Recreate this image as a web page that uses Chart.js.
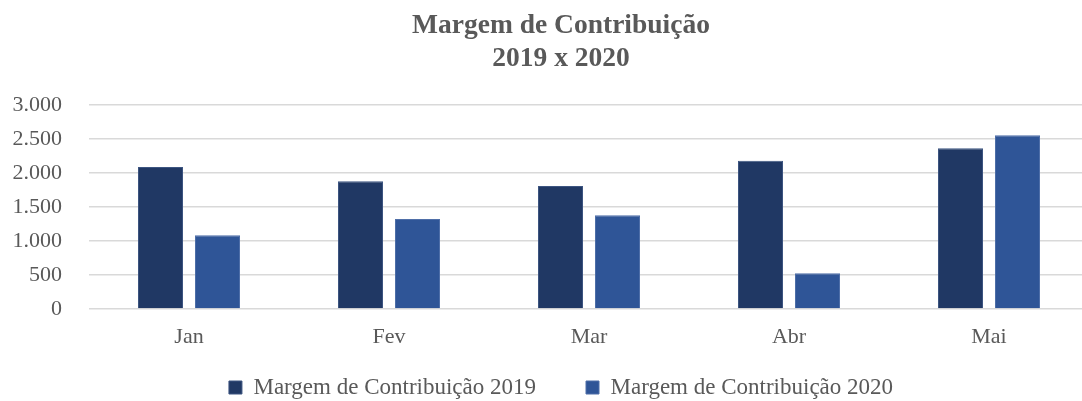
<!DOCTYPE html>
<html>
<head>
<meta charset="utf-8">
<script src="https://cdn.jsdelivr.net/npm/chart.js@4/dist/chart.umd.min.js"></script>
<style>
  html, body { margin: 0; padding: 0; background: #fff; overflow: hidden; }
  #wrap { width: 1122px; height: 401px; }
</style>
</head>
<body>
<div id="wrap"><canvas id="margemChart"></canvas></div>
<script>
// ===== DATA =====
const months = ['Jan', 'Fev', 'Mar', 'Abr', 'Mai'];
const margem2019 = [2090, 1880, 1810, 2180, 2365];
const margem2020 = [1085, 1325, 1380, 525, 2555];
const yMax = 3000;
const yStep = 500;

// thousands separator like "3.000"
function fmtBR(v) {
  return String(v).replace(/\B(?=(\d{3})+(?!\d))/g, '.');
}

const serif = "'Liberation Serif', 'DejaVu Serif', serif";
const grey = '#595959';

// ===== LEGEND: wide gap between items but a short box =====
const LEGEND_H = 51;
const LEGEND_ITEM_TOP = 26;
const legendFix = {
  id: 'legendFix',
  beforeInit(chart) {
    const legend = chart.legend;
    const fit = legend.fit;
    legend.fit = function () {
      fit.call(this);
      this.height = LEGEND_H;
    };
    const draw = legend.draw;
    legend.draw = function () {
      const t = this.top;
      this.top = t + LEGEND_ITEM_TOP - this.options.labels.padding;
      draw.call(this);
      this.top = t;
    };
  }
};

const ctx = document.getElementById('margemChart');
new Chart(ctx, {
  type: 'bar',
  data: {
    labels: months,
    datasets: [
      {
        label: 'Margem de Contribuição 2019',
        data: margem2019,
        backgroundColor: '#203864',
        borderColor: '#3d5581',
        borderWidth: 1,
        categoryPercentage: 0.57,
        barPercentage: 0.79
      },
      {
        label: 'Margem de Contribuição 2020',
        data: margem2020,
        backgroundColor: '#2f5597',
        borderColor: '#4f6fa8',
        borderWidth: 1,
        categoryPercentage: 0.57,
        barPercentage: 0.79
      }
    ]
  },
  options: {
    responsive: true,
    maintainAspectRatio: false,
    animation: false,
    layout: { padding: 0 },
    plugins: {
      title: {
        display: true,
        text: ['Margem de Contribuição', '2019 x 2020'],
        color: grey,
        font: { family: serif, size: 27.5, weight: 'bold', lineHeight: 1.22 },
        padding: { top: 9, bottom: 29 }
      },
      legend: {
        position: 'bottom',
        labels: {
          color: grey,
          font: { family: serif, size: 23 },
          boxWidth: 13,
          boxHeight: 13,
          padding: 50
        }
      },
      tooltip: { enabled: false }
    },
    scales: {
      x: {
        afterFit: scale => { scale.height = 41; },
        grid: { display: false, drawTicks: false },
        border: { display: false },
        ticks: { color: grey, font: { family: serif, size: 22 }, padding: 15 }
      },
      y: {
        min: 0,
        max: yMax,
        afterFit: scale => { scale.width = 89; },
        ticks: {
          stepSize: yStep,
          color: grey,
          font: { family: serif, size: 22 },
          padding: 27,
          callback: v => fmtBR(v)
        },
        grid: { color: '#d9d9d9', lineWidth: 1.5, drawTicks: false },
        border: { display: false }
      },
      // empty right-hand spacer so the plot stops short of the right edge
      spacer: {
        type: 'linear',
        position: 'right',
        afterFit: scale => { scale.width = 33; },
        ticks: { display: false },
        grid: { display: false, drawTicks: false },
        border: { display: false }
      }
    }
  },
  plugins: [legendFix]
});
</script>
</body>
</html>
